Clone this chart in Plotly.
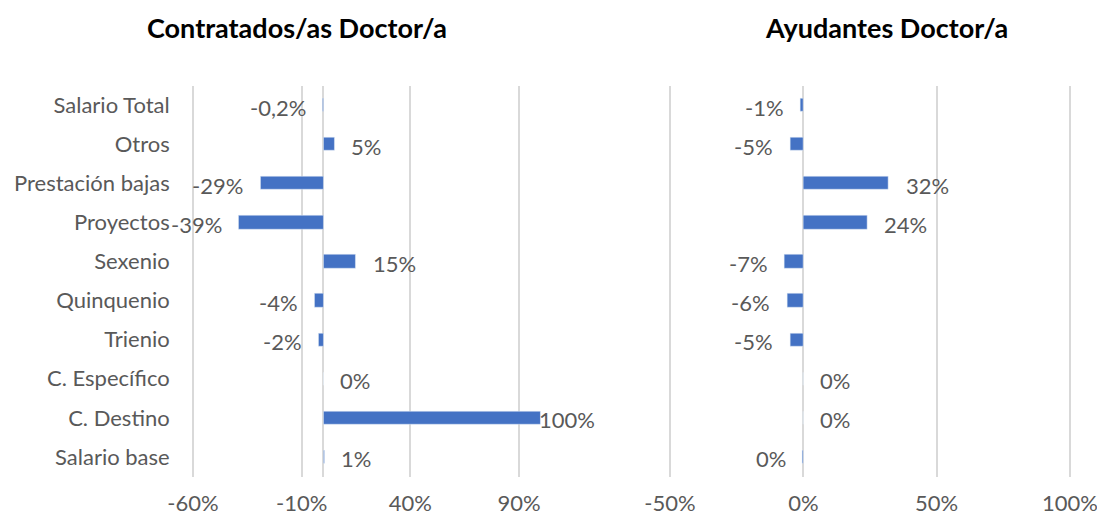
import plotly.graph_objects as go

categories = ["Salario base", "C. Destino", "C. Específico", "Trienio", "Quinquenio",
              "Sexenio", "Proyectos", "Prestación bajas", "Otros", "Salario Total"]
contratados = [0.005, 1.00, 0.0, -0.02, -0.04, 0.15, -0.39, -0.29, 0.05, -0.002]
contratados_labels = ["1%", "100%", "0%", "-2%", "-4%", "15%", "-39%", "-29%", "5%", "-0,2%"]
ayudantes = [-0.003, 0.0, 0.0, -0.05, -0.06, -0.07, 0.24, 0.32, -0.05, -0.01]
ayudantes_labels = ["0%", "0%", "0%", "-5%", "-6%", "-7%", "24%", "32%", "-5%", "-1%"]
left_ticks = [-0.6, -0.1, 0.4, 0.9]
left_ticktext = ["-60%", "-10%", "40%", "90%"]
right_ticks = [-0.5, 0.0, 0.5, 1.0]
right_ticktext = ["-50%", "0%", "50%", "100%"]

W, H = 1097, 518
FONT = "Lato"
FS = 22
TXT = "#595959"
BAR = "#4472C4"
GRID = "#D9D9D9"

fig = go.Figure()
fig.add_trace(go.Bar(y=categories, x=contratados, orientation="h", marker_color=BAR,
                     width=0.34, xaxis="x", yaxis="y", hoverinfo="skip"))
fig.add_trace(go.Bar(y=categories, x=ayudantes, orientation="h", marker_color=BAR,
                     width=0.34, xaxis="x2", yaxis="y2", hoverinfo="skip"))

# Small padding so the edge gridlines are drawn (Plotly omits grid lines on the range boundary)
left_range = [-0.606, 1.0]
right_range = [-0.506, 1.006]
lpx = 347.7 / 1.6
rpx = 400 / 1.5
left_dom = [(193 - 0.006 * lpx) / W, 540.7 / W]
right_dom = [(670 - 0.006 * rpx) / W, (1070 + 0.006 * rpx) / W]

annotations = []
for vals, labs, xr, yr, maxv in [(contratados, contratados_labels, "x", "y", 1.0),
                                 (ayudantes, ayudantes_labels, "x2", "y2", 1.0)]:
    for c, v, t in zip(categories, vals, labs):
        if v < 0:
            anchor, shift = "right", -15
        elif v >= maxv:
            anchor, shift = "left", -4
        else:
            anchor, shift = "left", 15
        annotations.append(dict(x=v, y=c, xref=xr, yref=yr, text=t, showarrow=False,
                                xanchor=anchor, xshift=shift, yshift=-2,
                                font=dict(family=FONT, size=FS, color=TXT)))

annotations.append(dict(x=297 / W, y=1 - 27 / H, xref="paper", yref="paper",
                        text="<b>Contratados/as Doctor/a</b>", showarrow=False,
                        xanchor="center", yanchor="middle",
                        font=dict(family=FONT, size=27, color="#000000")))
annotations.append(dict(x=886 / W, y=1 - 27 / H, xref="paper", yref="paper",
                        text="<b>Ayudantes Doctor/a</b>", showarrow=False,
                        xanchor="center", yanchor="middle",
                        font=dict(family=FONT, size=27, color="#000000")))

ydom = [1 - 476.5 / H, 1 - 85.5 / H]
axis_common = dict(showgrid=True, gridcolor=GRID, gridwidth=1.5, showline=False,
                   ticks="", tickfont=dict(family=FONT, size=FS, color=TXT),
                   ticklabelstandoff=11, ticklabeloverflow="allow",
                   fixedrange=True, automargin=False)

fig.update_layout(
    width=W, height=H,
    margin=dict(l=0, r=0, t=0, b=0),
    paper_bgcolor="white", plot_bgcolor="white",
    showlegend=False,
    bargap=0.0,
    annotations=annotations,
    xaxis=dict(domain=left_dom, range=left_range, tickvals=left_ticks,
               ticktext=left_ticktext, zeroline=True, zerolinecolor=GRID, zerolinewidth=1.5,
               anchor="y", **axis_common),
    xaxis2=dict(domain=right_dom, range=right_range, tickvals=right_ticks,
                ticktext=right_ticktext, zeroline=True, zerolinecolor=GRID, zerolinewidth=1.5,
                anchor="y2", **axis_common),
    yaxis=dict(domain=ydom, anchor="x", showgrid=False, showline=False, ticks="",
               tickfont=dict(family=FONT, size=FS, color=TXT), ticklabelstandoff=21,
               categoryorder="array", categoryarray=categories, fixedrange=True,
               automargin=False),
    yaxis2=dict(domain=ydom, anchor="x2", showgrid=False, showline=False, ticks="",
                showticklabels=False, categoryorder="array", categoryarray=categories,
                fixedrange=True, automargin=False),
)

fig.write_html("out.html", config={"displayModeBar": False},
               post_script="document.body.style.margin='0px';document.body.style.overflow='hidden';")
